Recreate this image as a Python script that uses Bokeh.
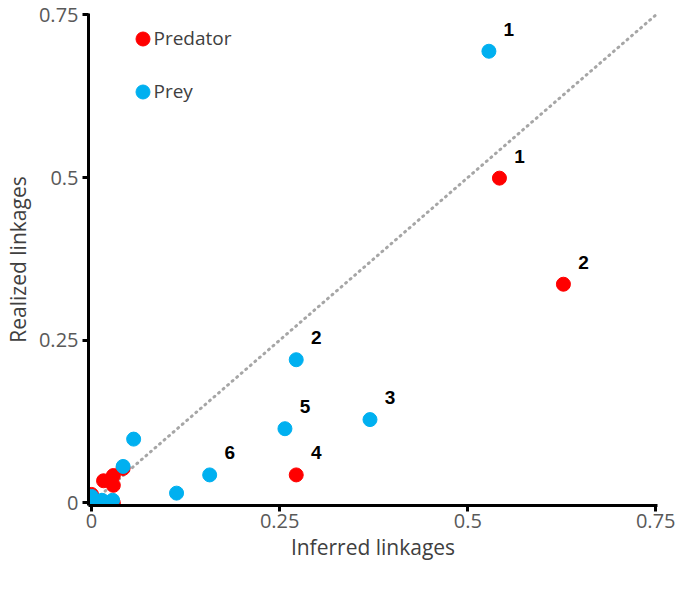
from bokeh.plotting import figure
from bokeh.models import (ColumnDataSource, Range1d, FixedTicker, Legend,
                          LegendItem, Label)
from bokeh.core.properties import value
from bokeh.embed import file_html
from bokeh.resources import INLINE

# ---- data ----
pred_x = [0.542, 0.627, 0.272, 0.042, 0.029, 0.016, 0.029, 0.000, 0.029]
pred_y = [0.499, 0.336, 0.043, 0.053, 0.042, 0.034, 0.027, 0.013, 0.000]
pred_lab = ["1", "2", "4", "", "", "", "", "", ""]

prey_x = [0.528, 0.272, 0.370, 0.257, 0.157, 0.113, 0.056, 0.042, 0.000, 0.000, 0.014, 0.028]
prey_y = [0.694, 0.220, 0.128, 0.114, 0.043, 0.015, 0.098, 0.056, 0.010, 0.004, 0.004, 0.004]
prey_lab = ["1", "2", "3", "5", "6", "", "", "", "", "", "", ""]

diag = [0.0, 0.75]
ticks = [0, 0.25, 0.5, 0.75]
tick_labels = ["0", "0.25", "0.5", "0.75"]
series_names = ["Predator", "Prey"]

FONT = "Open Sans"
PRED_COLOR = "#FF0000"
PREY_COLOR = "#00B0F0"

p = figure(width=675, height=575, output_backend="svg", toolbar_location=None,
           x_range=Range1d(-0.004, 0.752), y_range=Range1d(-0.004, 0.752),
           min_border_left=83, min_border_right=18, min_border_top=13,
           min_border_bottom=70)
p.grid.visible = False
p.outline_line_color = None
p.background_fill_color = "white"

p.line(diag, diag, line_color="#A6A6A6", line_width=3, line_dash="1 5",
       line_cap="round")

pred_src = ColumnDataSource(dict(x=pred_x, y=pred_y, lab=pred_lab))
prey_src = ColumnDataSource(dict(x=prey_x, y=prey_y, lab=prey_lab))

r_pred = p.scatter("x", "y", source=pred_src, size=14, fill_color=PRED_COLOR,
                   line_color=PRED_COLOR)
r_prey = p.scatter("x", "y", source=prey_src, size=14, fill_color=PREY_COLOR,
                   line_color=PREY_COLOR)

for src in (pred_src, prey_src):
    p.text("x", "y", text="lab", source=src, x_offset=20, y_offset=-22,
           text_align="center", text_baseline="middle",
           text_font=value("Liberation Sans"), text_font_style="bold",
           text_font_size="19px", text_color="black")

for ax in p.axis:
    ax.ticker = FixedTicker(ticks=ticks)
    ax.major_label_overrides = {t: l for t, l in zip(ticks, tick_labels)}
    ax.axis_line_width = 3
    ax.axis_line_color = "black"
    ax.major_tick_line_width = 3
    ax.major_tick_line_color = "black"
    ax.major_tick_out = 6
    ax.major_tick_in = 0
    ax.minor_tick_out = 0
    ax.minor_tick_in = 0
    ax.major_label_text_font = FONT
    ax.major_label_text_font_size = "20px"
    ax.major_label_text_color = "#595959"
    ax.axis_label_text_font = FONT
    ax.axis_label_text_font_size = "21px"
    ax.axis_label_text_font_style = "normal"
    ax.axis_label_text_color = "#404040"

p.xaxis.axis_label = "Inferred linkages"
p.yaxis.axis_label = "Realized linkages"
p.xaxis.major_label_standoff = 2
p.xaxis.axis_label_standoff = 2
p.yaxis.major_label_standoff = 4
p.yaxis.axis_label_standoff = 4
p.yaxis.major_label_orientation = "horizontal"

# legend: markers from the renderers, texts as labels right beside them
legend = Legend(items=[LegendItem(label=" ", renderers=[r_pred]),
                       LegendItem(label=" ", renderers=[r_prey])],
                location=(37, 396), border_line_color=None,
                background_fill_alpha=0, spacing=18, padding=0, margin=0,
                glyph_width=35, glyph_height=35, label_height=35,
                label_standoff=0, label_text_font_size="8px")
p.add_layout(legend)
for name, ypos in zip(series_names, [468, 415]):
    p.add_layout(Label(x=65, y=ypos, x_units="screen", y_units="screen",
                       text=name, text_align="left", text_baseline="middle",
                       text_font=FONT, text_font_size="19px",
                       text_color="#404040"))

open("out.html", "w").write(file_html(p, INLINE))
